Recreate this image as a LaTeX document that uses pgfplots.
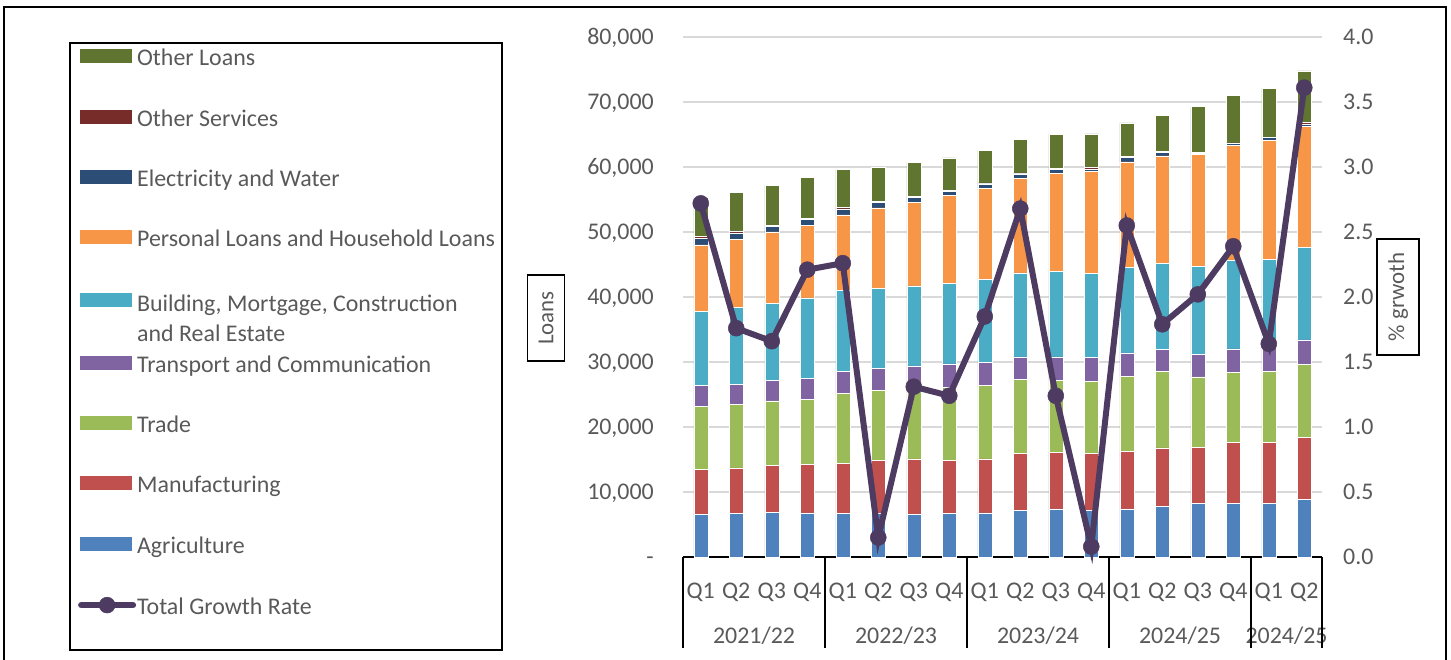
\documentclass[border=0pt]{standalone}
\usepackage{pgfplots}
\pgfplotsset{compat=1.18}
\usepackage{pgfplotstable}
\usepackage{fontspec}
\setmainfont{Carlito}

\definecolor{cAgri}{HTML}{4F81BD}
\definecolor{cManuf}{HTML}{C0504D}
\definecolor{cTrade}{HTML}{9BBB59}
\definecolor{cTransp}{HTML}{8064A2}
\definecolor{cBuild}{HTML}{4BACC6}
\definecolor{cPers}{HTML}{F79646}
\definecolor{cElec}{HTML}{2C4D75}
\definecolor{cOsrv}{HTML}{772C2A}
\definecolor{cOther}{HTML}{5F7530}
\definecolor{cLine}{HTML}{4E3B62}
\definecolor{txt}{HTML}{595959}
\definecolor{gridc}{HTML}{D9D9D9}

% loans by sector, growth in %
\pgfplotstableread{
x agri manuf trade transp build pers elec osrv other growth
0 6600 6900 9650 3200 11400 10250 1000 300 6000 2.72
1 6700 7000 9800 3100 11800 10500 950 300 5950 1.76
2 6900 7200 9900 3200 11800 11000 850 150 6200 1.66
3 6800 7500 10000 3200 12350 11200 900 150 6300 2.21
4 6700 7650 10850 3350 12500 11600 900 200 5900 2.26
5 6700 8200 10700 3400 12300 12400 800 200 5200 0.15
6 6500 8600 10900 3400 12300 12900 700 150 5250 1.31
7 6700 8200 11200 3600 12400 13500 700 100 5000 1.24
8 6800 8300 11300 3500 12800 14000 700 150 4950 1.85
9 7200 8700 11400 3500 12900 14600 650 150 5200 2.68
10 7400 8650 11150 3600 13100 15100 600 200 5200 1.24
11 7200 8700 11100 3700 12900 15700 400 200 5200 0.08
12 7400 8900 11500 3600 13200 16200 700 100 5200 2.55
13 7800 9000 11700 3400 13300 16500 600 100 5550 1.79
14 8300 8600 10800 3500 13500 17200 200 100 7100 2.02
15 8300 9300 10800 3600 13700 17600 300 100 7300 2.39
16 8300 9300 10900 3800 13500 18350 350 100 7500 1.64
17 8900 9450 11250 3800 14200 18700 300 300 7900 3.61
}\loans

\newcommand{\ls}{\rule[-5bp]{0pt}{21bp}}
\newcommand{\tickfont}{\fontsize{24}{28}\selectfont}

\pgfplotsset{
  barsw/.style={legend image code/.code={\fill[##1, draw=none] (0bp,-5bp) rectangle (52bp,9bp);}},
  linesw/.style={legend image code/.code={%
    \draw[cLine, line width=6bp, line cap=round] (1bp,2bp) -- (53bp,2bp);
    \fill[cLine] (27bp,2bp) circle (8bp);}},
  seg/.style={fill=#1, draw=white, line width=0.5bp},
  growthline/.style={cLine, line width=6bp, mark=*, mark size=8bp, mark options={fill=cLine, line width=0.5bp}},
}
\tikzset{yearlab/.style={anchor=base, inner sep=0pt, font=\tickfont, text=txt},
  sepline/.style={black, line width=1.5bp}}

\begin{document}
\begin{tikzpicture}[x=1bp,y=1bp]
\useasboundingbox (0,0) rectangle (1451,660);
\draw[line width=2bp] (4,0) -- (4,653) -- (1446,653) -- (1446,0);
\draw[line width=2bp] (70,617) rectangle (502,10);

\begin{axis}[
  at={(683bp,103bp)}, anchor=south west,
  width=639bp, height=520bp, scale only axis,
  xmin=-0.5, xmax=17.5, ymin=0, ymax=80000,
  ybar stacked, bar width=14bp,
  axis line style={draw=none},
  major tick length=0pt,
  ymajorgrids, grid style={gridc, line width=1.5bp},
  scaled y ticks=false,
  ytick={0,10000,...,80000},
  yticklabels={-\hspace{12bp},{10,000},{20,000},{30,000},{40,000},{50,000},{60,000},{70,000},{80,000}},
  yticklabel style={anchor=base east, xshift=-29bp, yshift=-7.5bp, inner sep=0pt, font=\tickfont, text=txt},
  xtick={0,...,17},
  xticklabels={Q1,Q2,Q3,Q4,Q1,Q2,Q3,Q4,Q1,Q2,Q3,Q4,Q1,Q2,Q3,Q4,Q1,Q2},
  xticklabel style={anchor=base, yshift=-41.5bp, inner sep=0pt, font=\tickfont, text=txt},
  clip=false,
  legend style={at={(axis description cs:-0.9469,0.9770)}, anchor=north west,
    draw=none, fill=none, inner sep=0pt, row sep=42.3bp, column sep=1bp,
    font=\fontsize{24}{30}\selectfont, text=txt,
    nodes={inner sep=0pt}},
  legend cell align=left,
]
\addlegendimage{barsw, fill=cOther}\addlegendentry{\ls Other Loans}
\addlegendimage{barsw, fill=cOsrv}\addlegendentry{\ls Other Services}
\addlegendimage{barsw, fill=cElec}\addlegendentry{\ls Electricity and Water}
\addlegendimage{barsw, fill=cPers}\addlegendentry{\ls Personal Loans and Household Loans}
\addlegendimage{barsw, fill=cBuild}\addlegendentry{\ls\raisebox{0pt}[\height][0pt]{\begin{tabular}[t]{@{}l@{}}Building, Mortgage, Construction\\and Real Estate\end{tabular}}}
\addlegendimage{barsw, fill=cTransp}\addlegendentry{\ls Transport and Communication}
\addlegendimage{barsw, fill=cTrade}\addlegendentry{\ls Trade}
\addlegendimage{barsw, fill=cManuf}\addlegendentry{\ls Manufacturing}
\addlegendimage{barsw, fill=cAgri}\addlegendentry{\ls Agriculture}
\addlegendimage{linesw}\addlegendentry{\ls Total Growth Rate}

\addplot[seg=cAgri] table[x=x, y=agri] {\loans};
\addplot[seg=cManuf] table[x=x, y=manuf] {\loans};
\addplot[seg=cTrade] table[x=x, y=trade] {\loans};
\addplot[seg=cTransp] table[x=x, y=transp] {\loans};
\addplot[seg=cBuild] table[x=x, y=build] {\loans};
\addplot[seg=cPers] table[x=x, y=pers] {\loans};
\addplot[seg=cElec] table[x=x, y=elec] {\loans};
\addplot[seg=cOsrv] table[x=x, y=osrv] {\loans};
\addplot[seg=cOther] table[x=x, y=other] {\loans};

% category axis
\draw[sepline] (axis cs:-0.5,0) -- (axis cs:17.5,0);
\draw[sepline] (axis cs:-0.5,0) -- ++(0bp,-91bp);
\draw[sepline] (axis cs:3.5,0) -- ++(0bp,-91bp);
\draw[sepline] (axis cs:7.5,0) -- ++(0bp,-91bp);
\draw[sepline] (axis cs:11.5,0) -- ++(0bp,-91bp);
\draw[sepline] (axis cs:15.5,0) -- ++(0bp,-91bp);
\draw[sepline] (axis cs:17.5,0) -- ++(0bp,-91bp);
\node[yearlab] at ([yshift=-87bp]axis cs:1.5,0) {2021/22};
\node[yearlab] at ([yshift=-87bp]axis cs:5.5,0) {2022/23};
\node[yearlab] at ([yshift=-87bp]axis cs:9.5,0) {2023/24};
\node[yearlab] at ([yshift=-87bp]axis cs:13.5,0) {2024/25};
\node[yearlab] at ([yshift=-87bp]axis cs:16.5,0) {2024/25};
\end{axis}

\begin{axis}[
  at={(683bp,103bp)}, anchor=south west,
  width=639bp, height=520bp, scale only axis,
  xmin=-0.5, xmax=17.5, ymin=0, ymax=4,
  axis line style={draw=none},
  major tick length=0pt,
  xtick=\empty,
  yticklabel pos=right,
  ytick={0,0.5,...,4},
  yticklabels={0.0,0.5,1.0,1.5,2.0,2.5,3.0,3.5,4.0},
  yticklabel style={anchor=base west, xshift=21bp, yshift=-7.5bp, inner sep=0pt, font=\tickfont, text=txt},
  clip=false,
]
\addplot[growthline] table[x=x, y=growth] {\loans};
\end{axis}

\node[draw, line width=1.5bp, rotate=90, inner xsep=16bp, inner ysep=11bp, text=txt,
  font=\fontsize{23}{27}\selectfont] at (546,342) {Loans};
\node[draw, line width=1.5bp, rotate=90, inner xsep=14bp, inner ysep=11bp, text=txt,
  font=\fontsize{23}{27}\selectfont] at (1398,363) {\% grwoth};
\end{tikzpicture}
\end{document}
